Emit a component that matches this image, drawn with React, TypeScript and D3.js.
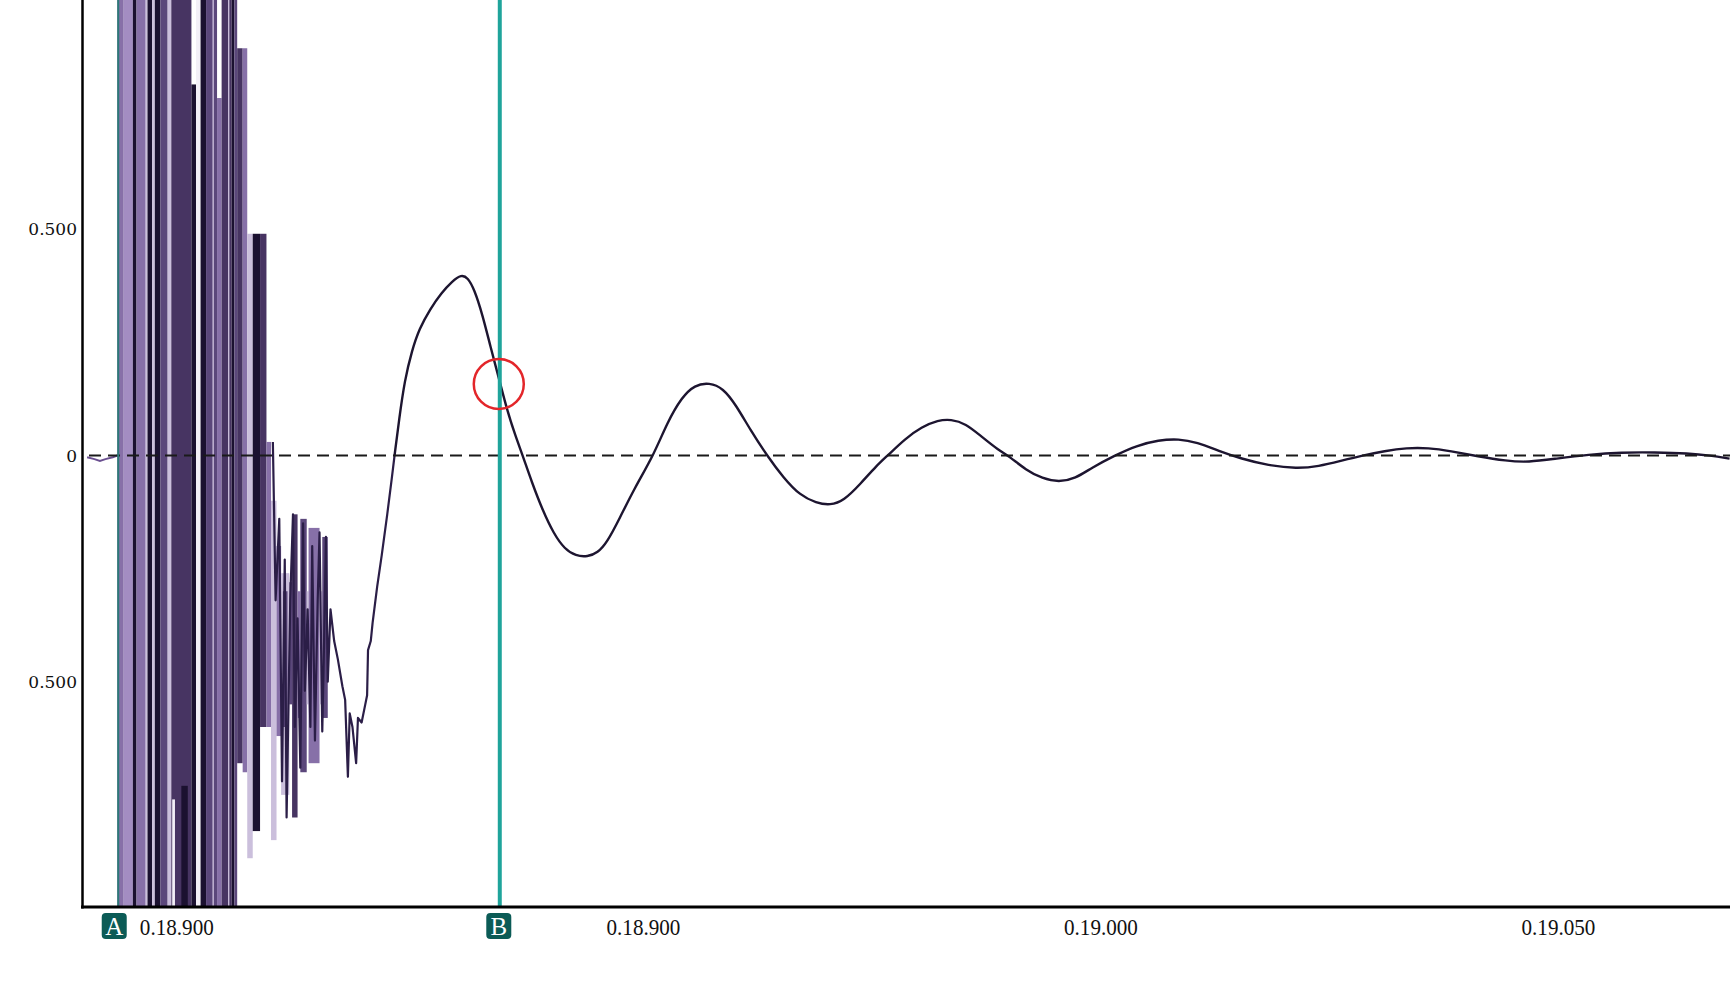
import React, { useEffect, useRef } from 'react';
import * as d3 from 'd3';

const WIDTH = 1730;
const HEIGHT = 991;

// time axis (arbitrary sample units), tick labels as printed on the capture
const xTicks = [899, 950, 1000, 1050];
const xTickLabels = ['0.18.900', '0.18.900', '0.19.000', '0.19.050'];
const yTicks = [0.5, 0, -0.5];
const yTickLabels = ['0.500', '0', '0.500'];

// cursors
const cursorNames = ['A', 'B'];
const cursorT = [892.6, 934.3];

// red hand-drawn mark around the cursor B crossing
const markT = 934.3;
const markV = 0.158;

// burst region: [tStart, tEnd, hi, lo, shade]
const burstBars: [number, number, number, number, number][] = [
  [892.5, 893.2, 1.2, -1.2, 1],
  [893.2, 894.2, 1.2, -1.2, 0],
  [894.2, 894.6, 1.2, -1.2, 4],
  [894.6, 895.6, 1.2, -1.2, 1],
  [895.6, 895.8, 1.2, -1.2, 5],
  [895.8, 896.3, 1.2, -1.2, 4],
  [896.3, 896.6, 1.2, -1.2, 5],
  [896.6, 897.2, 1.2, -1.2, 4],
  [897.2, 898.0, 1.2, -1.2, 2],
  [898.0, 898.4, 1.2, -1.2, 5],
  [898.4, 900.6, 1.2, -1.2, 3],
  [898.5, 898.8, -0.76, -1.2, 6],
  [899.5, 900.2, -0.73, -1.2, 4],
  [900.6, 901.1, 0.82, -1.2, 4],
  [901.1, 901.6, 1.2, -1.2, 6],
  [901.6, 902.2, 1.2, -1.2, 4],
  [902.2, 903.4, 1.2, -1.2, 2],
  [902.9, 903.05, 1.2, -1.2, 5],
  [903.4, 903.9, 0.79, -1.2, 1],
  [903.9, 905.0, 1.2, -1.2, 3],
  [904.6, 904.75, 1.2, -1.2, 5],
  [905.0, 905.3, 1.2, -1.2, 4],
  [905.3, 905.6, 1.2, -1.2, 2],
  [905.6, 906.2, 0.9, -0.68, 3],
  [906.2, 906.7, 0.9, -0.7, 1],
  [906.7, 907.3, 0.49, -0.89, 5],
  [907.3, 908.1, 0.49, -0.83, 4],
  [908.1, 908.8, 0.49, -0.6, 3],
  [908.8, 909.3, 0.03, -0.6, 1],
  [909.3, 909.9, -0.1, -0.85, 5],
  [909.9, 910.4, -0.2, -0.62, 1],
  [910.4, 911.3, -0.26, -0.75, 5],
  [910.6, 911.1, -0.3, -0.6, 2],
  [911.3, 911.6, -0.28, -0.55, 2],
  [911.6, 912.2, -0.13, -0.8, 3],
  [912.2, 912.5, -0.3, -0.58, 1],
  [912.5, 913.2, -0.14, -0.7, 2],
  [913.2, 913.4, -0.3, -0.55, 5],
  [913.4, 914.6, -0.16, -0.68, 1],
  [914.6, 914.9, -0.3, -0.55, 5],
  [914.9, 915.5, -0.18, -0.58, 2],
];
const shades = ['#a38dc2', '#8770a8', '#5b477b', '#473462', '#1b1130', '#cbbfdc', '#f3f0f7'];

// trace before cursor A
const preTrace: [number, number][] = [
  [889.2, -0.004], [890.0, -0.008], [890.6, -0.012], [891.2, -0.008], [892.0, -0.004], [892.5, 0],
];

// jagged trace after the burst
const burstTrace: [number, number][] = [
  [909.5, 0.03], [909.8, -0.32], [910.2, -0.14], [910.5, -0.72], [910.8, -0.23], [911.0, -0.8],
  [911.4, -0.32], [911.7, -0.13], [911.9, -0.6], [912.2, -0.36], [912.5, -0.69], [912.8, -0.15],
  [913.0, -0.52], [913.3, -0.34], [913.6, -0.6], [913.8, -0.2], [914.1, -0.63], [914.4, -0.32],
  [914.6, -0.17], [914.9, -0.61], [915.1, -0.41], [915.3, -0.18], [915.5, -0.5], [915.8, -0.34],
  [916.2, -0.41], [916.6, -0.45], [917.1, -0.51], [917.4, -0.54], [917.7, -0.71], [917.9, -0.57],
  [918.2, -0.6], [918.6, -0.68], [918.8, -0.58], [919.2, -0.59], [919.6, -0.55], [919.8, -0.53],
  [919.9, -0.43], [920.2, -0.41], [920.4, -0.37], [920.9, -0.29], [921.4, -0.22], [922.0, -0.13],
  [922.5, -0.05], [922.8, 0],
];

// damped ringing
const ringTrace: [number, number][] = [
  [922.8, 0], [923.3, 0.08], [923.9, 0.166], [924.7, 0.232], [925.5, 0.28], [926.7, 0.324],
  [927.9, 0.359], [929.1, 0.385], [930.1, 0.4], [930.8, 0.393], [931.5, 0.368], [932.4, 0.312],
  [933.3, 0.239], [934.2, 0.171], [935.1, 0.1], [936.0, 0.044], [936.8, 0], [937.8, -0.059],
  [939.0, -0.122], [940.2, -0.173], [941.4, -0.207], [942.6, -0.222], [943.9, -0.224], [945.0, -0.215],
  [946.0, -0.193], [947.4, -0.139], [949.0, -0.073], [951.1, 0], [952.6, 0.073], [954.2, 0.129],
  [955.6, 0.156], [957.2, 0.161], [958.7, 0.149], [960.1, 0.112], [961.7, 0.056], [963.5, 0],
  [965.3, -0.049], [967.1, -0.088], [968.9, -0.105], [970.4, -0.11], [971.9, -0.1], [973.7, -0.063],
  [975.5, -0.022], [976.7, 0], [978.6, 0.037], [980.4, 0.063], [982.2, 0.078], [983.6, 0.08],
  [985.2, 0.071], [987.0, 0.041], [988.8, 0.012], [990.0, -0.002], [991.8, -0.032], [993.6, -0.051],
  [995.4, -0.059], [997.2, -0.051], [999.0, -0.027], [1001.5, 0], [1003.9, 0.022], [1006.3, 0.034],
  [1008.5, 0.037], [1010.5, 0.029], [1012.9, 0.01], [1015.3, -0.007], [1018.3, -0.022], [1021.4, -0.029],
  [1023.8, -0.024], [1026.2, -0.012], [1028.6, 0], [1031.0, 0.01], [1033.4, 0.017], [1035.8, 0.017],
  [1038.2, 0.01], [1041.2, -0.002], [1044.3, -0.012], [1046.7, -0.015], [1049.7, -0.007], [1053.3, 0.002],
  [1056.9, 0.007], [1060.5, 0.007], [1064.2, 0.005], [1066.6, 0], [1068.7, -0.007],
];

export default function App() {
  const ref = useRef<SVGSVGElement>(null);

  useEffect(() => {
    document.body.style.margin = '0';
    document.body.style.overflow = 'hidden';
    draw();
  }, []);

  function draw() {
    const svg = d3.select(ref.current);
    svg.selectAll('*').remove();

    const left = 83;
    const bottom = 907;

    const x = d3.scaleLinear().domain([888.75, 1068.75]).range([left, WIDTH]);
    const y = d3.scaleLinear().domain([-1, 1]).range([908, 3]);

    svg.append('defs')
      .append('clipPath')
      .attr('id', 'plot-clip')
      .append('rect')
      .attr('x', left)
      .attr('y', 0)
      .attr('width', WIDTH - left)
      .attr('height', bottom);

    const plot = svg.append('g').attr('clip-path', 'url(#plot-clip)');

    plot.selectAll('rect.burst')
      .data(burstBars)
      .enter()
      .append('rect')
      .attr('class', 'burst')
      .attr('x', (d) => x(d[0]))
      .attr('width', (d) => x(d[1]) - x(d[0]))
      .attr('y', (d) => y(d[2]))
      .attr('height', (d) => y(d[3]) - y(d[2]))
      .attr('fill', (d) => shades[d[4]]);

    const line = d3.line<[number, number]>()
      .x((d) => x(d[0]))
      .y((d) => y(d[1]));

    plot.append('path')
      .attr('d', line(preTrace))
      .attr('fill', 'none')
      .attr('stroke', '#6a4f90')
      .attr('stroke-width', 2);

    plot.append('path')
      .attr('d', line(burstTrace))
      .attr('fill', 'none')
      .attr('stroke', '#2b1e47')
      .attr('stroke-width', 2.2)
      .attr('stroke-linejoin', 'round');

    plot.append('path')
      .attr('d', line.curve(d3.curveBasis)(ringTrace))
      .attr('fill', 'none')
      .attr('stroke', '#1d1530')
      .attr('stroke-width', 2.4);

    // zero reference
    plot.append('line')
      .attr('x1', left + 6)
      .attr('x2', WIDTH)
      .attr('y1', y(0))
      .attr('y2', y(0))
      .attr('stroke', '#1a1a1a')
      .attr('stroke-width', 2)
      .attr('stroke-dasharray', '12,7');

    // cursors
    plot.append('line')
      .attr('x1', x(cursorT[0]))
      .attr('x2', x(cursorT[0]))
      .attr('y1', 0)
      .attr('y2', bottom)
      .attr('stroke', '#2c7a78')
      .attr('stroke-width', 2);

    plot.append('line')
      .attr('x1', x(cursorT[1]))
      .attr('x2', x(cursorT[1]))
      .attr('y1', 0)
      .attr('y2', bottom)
      .attr('stroke', '#1fa49b')
      .attr('stroke-width', 4);

    plot.append('ellipse')
      .attr('cx', x(markT) - 1)
      .attr('cy', y(markV))
      .attr('rx', 25)
      .attr('ry', 25)
      .attr('fill', 'none')
      .attr('stroke', '#e3262a')
      .attr('stroke-width', 2.5);

    // axes
    svg.append('line')
      .attr('x1', left - 0.5)
      .attr('x2', left - 0.5)
      .attr('y1', 0)
      .attr('y2', bottom + 1.5)
      .attr('stroke', '#000')
      .attr('stroke-width', 2.5);

    svg.append('line')
      .attr('x1', left - 2)
      .attr('x2', WIDTH)
      .attr('y1', bottom)
      .attr('y2', bottom)
      .attr('stroke', '#000')
      .attr('stroke-width', 3);

    svg.selectAll('text.ylab')
      .data(yTicks)
      .enter()
      .append('text')
      .attr('class', 'ylab')
      .attr('x', 77)
      .attr('y', (d) => y(d) + 6)
      .attr('text-anchor', 'end')
      .attr('font-family', '"DejaVu Serif", serif')
      .attr('font-size', 17)
      .attr('fill', '#111')
      .text((d, i) => yTickLabels[i]);

    svg.selectAll('text.xlab')
      .data(xTicks)
      .enter()
      .append('text')
      .attr('class', 'xlab')
      .attr('transform', (d) => `translate(${x(d)}, 935) scale(0.88, 1)`)
      .attr('text-anchor', 'middle')
      .attr('font-family', '"Liberation Serif", serif')
      .attr('font-size', 24)
      .attr('fill', '#111')
      .text((d, i) => xTickLabels[i]);

    const badges = svg.selectAll('g.badge')
      .data(cursorNames)
      .enter()
      .append('g')
      .attr('class', 'badge')
      .attr('transform', (d, i) => `translate(${x(cursorT[i]) - (i === 0 ? 4 : 1)}, 926)`);

    badges.append('rect')
      .attr('x', -12.5)
      .attr('y', -13)
      .attr('width', 25)
      .attr('height', 26)
      .attr('rx', 4)
      .attr('fill', '#0b5b56');

    badges.append('text')
      .attr('y', 8.5)
      .attr('text-anchor', 'middle')
      .attr('font-family', '"Liberation Serif", serif')
      .attr('font-size', 25)
      .attr('fill', '#fff')
      .text((d) => d);
  }

  return (
    <svg ref={ref} width={WIDTH} height={HEIGHT} style={{ display: 'block', background: '#fff' }} />
  );
}
